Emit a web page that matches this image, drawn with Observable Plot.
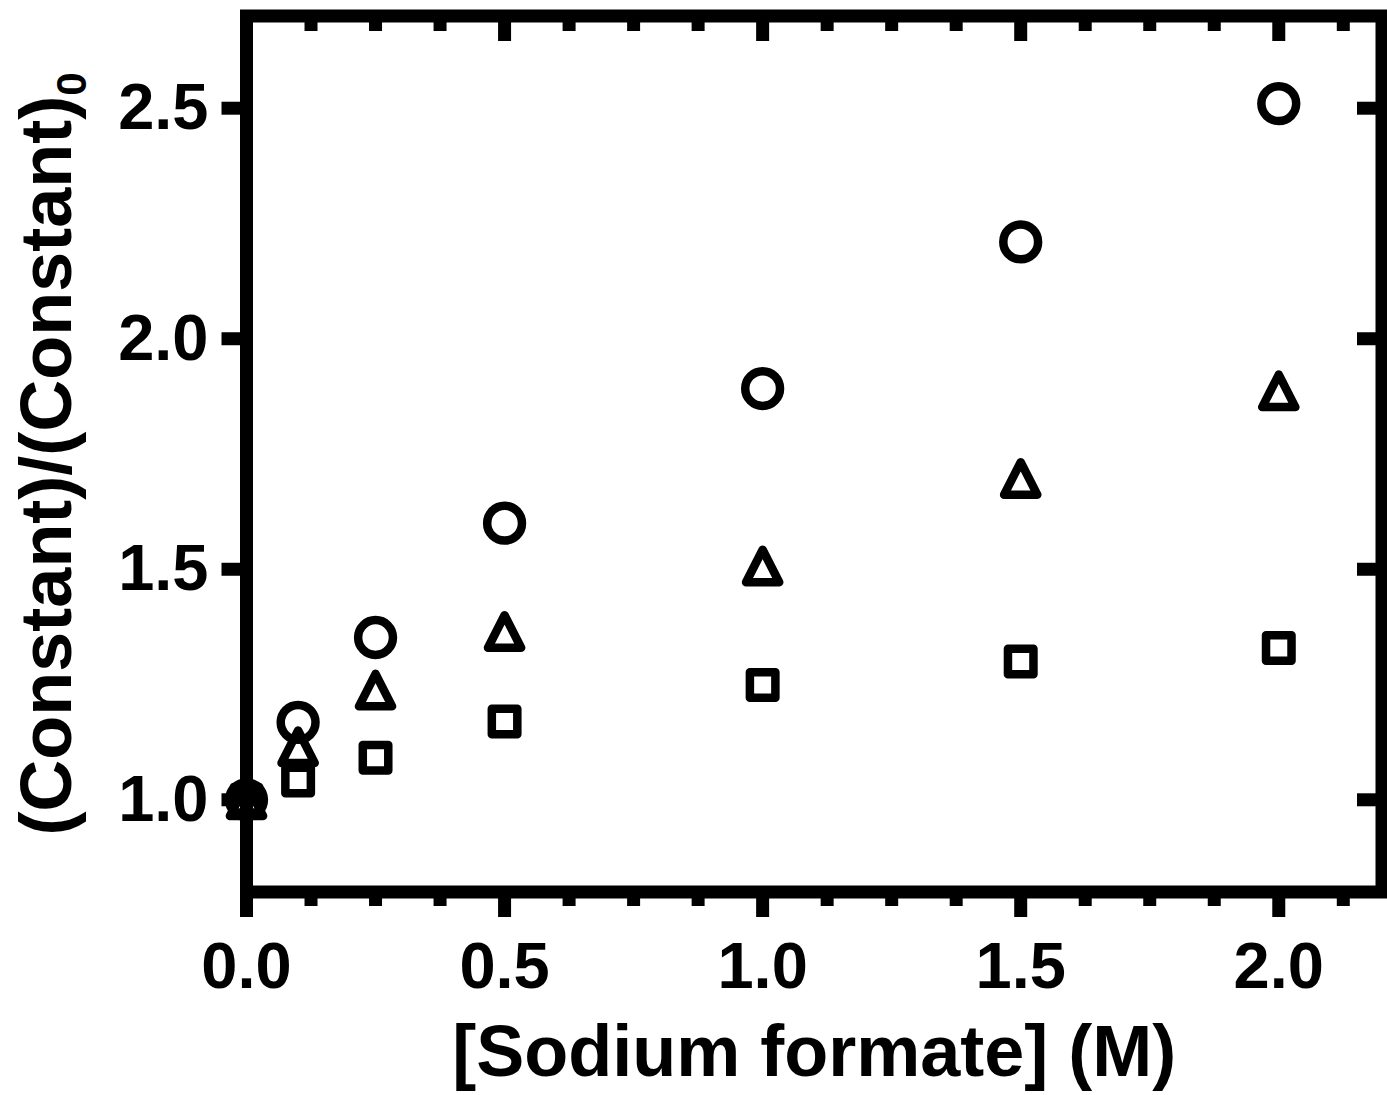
<!DOCTYPE html>
<html>
<head>
<meta charset="utf-8">
<script src="https://cdn.jsdelivr.net/npm/d3@7"></script>
<script src="https://cdn.jsdelivr.net/npm/@observablehq/plot@0.6"></script>
<style>
  html, body { margin: 0; padding: 0; background: #fff; }
  #chart svg { display: block; }
</style>
</head>
<body>
<div id="chart"></div>
<script>
// ---- data ----
const concentration = [0, 0.1, 0.25, 0.5, 1.0, 1.5, 2.0];   // [Sodium formate] (M)
const circleSeries   = [1.00, 1.168, 1.352, 1.600, 1.892, 2.210, 2.510];
const triangleSeries = [1.00, 1.115, 1.238, 1.365, 1.507, 1.697, 1.887];
const squareSeries   = [1.00, 1.042, 1.091, 1.170, 1.249, 1.300, 1.329];

const xMajorTicks = [0, 0.5, 1.0, 1.5, 2.0];
const xMinorTicks = [0.125, 0.25, 0.375, 0.625, 0.75, 0.875, 1.125, 1.25, 1.375, 1.625, 1.75, 1.875, 2.125];
const yMajorTicks = [1.0, 1.5, 2.0, 2.5];

const xTitle = "[Sodium formate] (M)";
const yTitle = "(Constant)/(Constant)";
const yTitleSub = "0";

const rows = (ys) => concentration.map((x, i) => ({x, y: ys[i]}));

// custom marker shapes (r = half size)
const squareSymbol = {
  draw(ctx, size) {
    const h = Math.sqrt(size / Math.PI);
    ctx.moveTo(-h, -h); ctx.lineTo(h, -h); ctx.lineTo(h, h); ctx.lineTo(-h, h); ctx.closePath();
  }
};
const triangleSymbol = {
  draw(ctx, size) {
    const h = Math.sqrt(size / Math.PI);
    const w = h * 1.02;
    ctx.moveTo(0, -h); ctx.lineTo(w, h); ctx.lineTo(-w, h); ctx.closePath();
  }
};

const font = "'Liberation Sans', Arial, Helvetica, sans-serif";
const markerStyle = {stroke: "black", strokeWidth: 8.5, fill: "none", strokeLinejoin: "round"};

const chart = Plot.plot({
  width: 1387,
  height: 1095,
  marginLeft: 246,
  marginRight: 5.5,
  marginTop: 15.5,
  marginBottom: 203.5,
  style: {fontFamily: font, background: "white", color: "black"},
  x: {domain: [0, 2.2]},
  y: {domain: [0.8, 2.7]},
  marks: [
    // bottom axis: major ticks with labels, minor ticks
    Plot.axisX({ticks: xMajorTicks, tickSize: 25.5, tickPadding: 24, strokeWidth: 13,
      fontSize: 65, fontWeight: "bold", tickFormat: d3.format(".1f"), label: null}),
    Plot.axisX({ticks: xMinorTicks, tickSize: 14.5, strokeWidth: 13, fill: "none", label: null}),
    // top axis: inward ticks
    Plot.axisX({anchor: "top", ticks: xMajorTicks, tickSize: -24.5, strokeWidth: 13, fill: "none", label: null}),
    Plot.axisX({anchor: "top", ticks: xMinorTicks, tickSize: -14.5, strokeWidth: 13, fill: "none", label: null}),
    // left axis
    Plot.axisY({ticks: yMajorTicks, tickSize: 24.5, tickPadding: 13.5, strokeWidth: 13,
      fontSize: 65, fontWeight: "bold", tickFormat: d3.format(".1f"), label: null}),
    // right axis: inward ticks
    Plot.axisY({anchor: "right", ticks: yMajorTicks, tickSize: -25.5, strokeWidth: 13, fill: "none", label: null}),
    Plot.frame({stroke: "black", strokeWidth: 13}),
    // data
    Plot.dot(rows(squareSeries), {x: "x", y: "y", symbol: squareSymbol, r: 12.75, ...markerStyle}),
    Plot.dot(rows(triangleSeries), {x: "x", y: "y", symbol: triangleSymbol, r: 16.25, ...markerStyle}),
    Plot.dot(rows(circleSeries), {x: "x", y: "y", r: 17.4, ...markerStyle}),
    // titles
    Plot.text([xTitle], {text: d => d, frameAnchor: "bottom", dy: 183.5, lineAnchor: "bottom",
      textAnchor: "middle", fontSize: 72, fontWeight: "bold", fill: "black"}),
    Plot.text([yTitle], {text: d => d, frameAnchor: "left", dx: -176, rotate: -90, lineAnchor: "bottom",
      textAnchor: "middle", fontSize: 72, fontWeight: "bold", fill: "black"})
  ]
});

// add subscript to the y title
chart.querySelectorAll("text").forEach(t => {
  if (t.textContent === yTitle) {
    const ts = document.createElementNS("http://www.w3.org/2000/svg", "tspan");
    ts.setAttribute("font-size", "42");
    ts.setAttribute("dy", "15");
    ts.textContent = yTitleSub;
    t.appendChild(ts);
  }
});

document.getElementById("chart").appendChild(chart);
</script>
</body>
</html>
